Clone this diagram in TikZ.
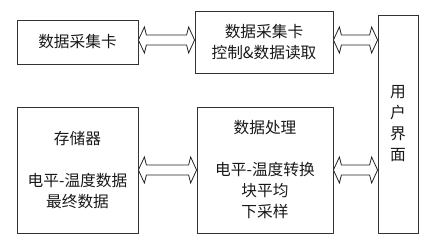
\documentclass[tikz,border=0pt]{standalone}
\usepackage{fontspec}
\newfontfamily\cjk{Noto Sans CJK SC}
\usetikzlibrary{calc}
\tikzset{box/.style={draw=black!80,line width=0.8pt,align=center,inner sep=0pt,
    font=\cjk\fontsize{15.7}{21}\selectfont,text=black!90},
  dblarr/.style={draw=black!85,line width=0.8pt,fill=white,line join=miter}}
% hollow double arrow between two points, kept at the height of the first one
\newcommand\dblarrow[2]{%
  \draw[dblarr] let \p1=(#1), \p2=(#2) in
    (\x1,\y1) -- (\x1+6,\y1+13) -- (\x1+8,\y1+5) -- (\x2-8,\y1+5) -- (\x2-6,\y1+13)
    -- (\x2,\y1) -- (\x2-6,\y1-13) -- (\x2-8,\y1-5) -- (\x1+8,\y1-5) -- (\x1+6,\y1-13) -- cycle;}

\begin{document}
\begin{tikzpicture}[x=1pt,y=1pt]
\useasboundingbox (0,0) rectangle (438,248);
\node[box,minimum width=121pt,minimum height=44pt] (card) at (77.5,206) {数据采集卡};
\node[box,minimum width=138pt,minimum height=62pt] (ctrl) at (264,206) {数据采集卡\\控制\&数据读取};
\node[box,minimum width=40pt,minimum height=218pt] (ui) at (398,124) {用\\户\\界\\面};
\node[box,minimum width=121pt,minimum height=126pt] (store) at (77.5,78) {存储器\\[21pt]电平-温度数据\\最终数据};
\node[box,minimum width=136pt,minimum height=126pt] (proc) at (265,78) {数据处理\\[21pt]电平-温度转换\\块平均\\下采样};
\dblarrow{[yshift=2pt]card.east}{ctrl.west}
\dblarrow{[yshift=2pt]ctrl.east}{ui.west}
\dblarrow{store.east}{proc.west}
\dblarrow{proc.east}{ui.west}
\end{tikzpicture}
\end{document}
